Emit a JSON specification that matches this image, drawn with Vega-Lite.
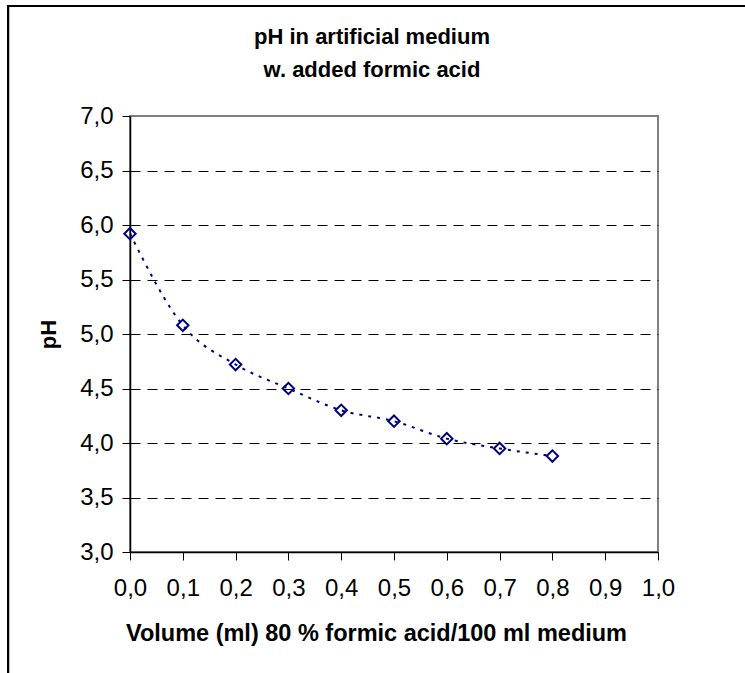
{
  "$schema": "https://vega.github.io/schema/vega-lite/v6.json",
  "width": 528,
  "height": 436,
  "autosize": {"type": "none"},
  "padding": {"left": 130, "top": 116, "right": 87, "bottom": 121},
  "background": "white",
  "config": {
    "font": "Liberation Sans",
    "view": {"stroke": "#808080", "strokeWidth": 2}
  },
  "title": {
    "text": ["pH in artificial medium", "w. added formic acid"],
    "font": "Liberation Sans",
    "fontSize": 22,
    "fontWeight": "bold",
    "color": "black",
    "anchor": "middle",
    "frame": "group",
    "dx": -22,
    "offset": -77,
    "lineHeight": 33
  },
  "data": {
    "values": [
      {"volume": 0.0, "pH": 5.92},
      {"volume": 0.1, "pH": 5.08},
      {"volume": 0.2, "pH": 4.72},
      {"volume": 0.3, "pH": 4.5},
      {"volume": 0.4, "pH": 4.3},
      {"volume": 0.5, "pH": 4.2},
      {"volume": 0.6, "pH": 4.04},
      {"volume": 0.7, "pH": 3.95},
      {"volume": 0.8, "pH": 3.88}
    ]
  },
  "encoding": {
    "x": {
      "field": "volume",
      "type": "quantitative",
      "scale": {"domain": [0, 1], "nice": false, "zero": false},
      "axis": {
        "title": "Volume (ml) 80 % formic acid/100 ml medium",
        "titleFont": "Liberation Sans",
        "titleFontSize": 23.5,
        "titleFontWeight": "bold",
        "titleColor": "black",
        "titlePadding": 21,
        "titleX": 246,
        "titleAlign": "center",
        "values": [0, 0.1, 0.2, 0.3, 0.4, 0.5, 0.6, 0.7, 0.8, 0.9, 1.0],
        "labelExpr": "replace(format(datum.value, '.1f'), '.', ',')",
        "labelFont": "Liberation Sans",
        "labelFontSize": 24,
        "labelColor": "black",
        "labelPadding": 16,
        "labelFlush": false,
        "labelOverlap": false,
        "grid": false,
        "domainColor": "black",
        "domainWidth": 1.5,
        "tickColor": "black",
        "tickSize": 8,
        "tickWidth": 1
      }
    },
    "y": {
      "field": "pH",
      "type": "quantitative",
      "scale": {"domain": [3, 7], "nice": false, "zero": false},
      "axis": {
        "title": "pH",
        "titleFont": "Liberation Sans",
        "titleFontSize": 22,
        "titleFontWeight": "bold",
        "titleColor": "black",
        "titlePadding": 19,
        "values": [3, 3.5, 4, 4.5, 5, 5.5, 6, 6.5, 7],
        "labelExpr": "replace(format(datum.value, '.1f'), '.', ',')",
        "labelFont": "Liberation Sans",
        "labelFontSize": 24,
        "labelColor": "black",
        "labelPadding": 9,
        "labelFlush": false,
        "labelOverlap": false,
        "grid": true,
        "gridColor": "black",
        "gridDash": [10, 7],
        "gridWidth": 1,
        "gridOpacity": {"condition": {"test": "datum.value >= 7 || datum.value <= 3", "value": 0}, "value": 1},
        "domainColor": "black",
        "domainWidth": 1.5,
        "tickColor": "black",
        "tickSize": 8,
        "tickWidth": 1
      }
    }
  },
  "layer": [
    {
      "mark": {"type": "rect", "fill": null, "fillOpacity": 0, "stroke": "black", "strokeWidth": 2, "clip": false},
      "encoding": {
        "x": {"datum": -0.231},
        "x2": {"datum": 1.2},
        "y": {"datum": 8.01},
        "y2": {"datum": 1.6}
      }
    },
    {
      "mark": {"type": "line", "interpolate": "monotone", "color": "#000080", "strokeWidth": 2, "strokeDash": [3, 6]}
    },
    {
      "mark": {"type": "point", "shape": "diamond", "filled": false, "color": "#000080", "strokeWidth": 2, "size": 130, "opacity": 1}
    }
  ]
}
